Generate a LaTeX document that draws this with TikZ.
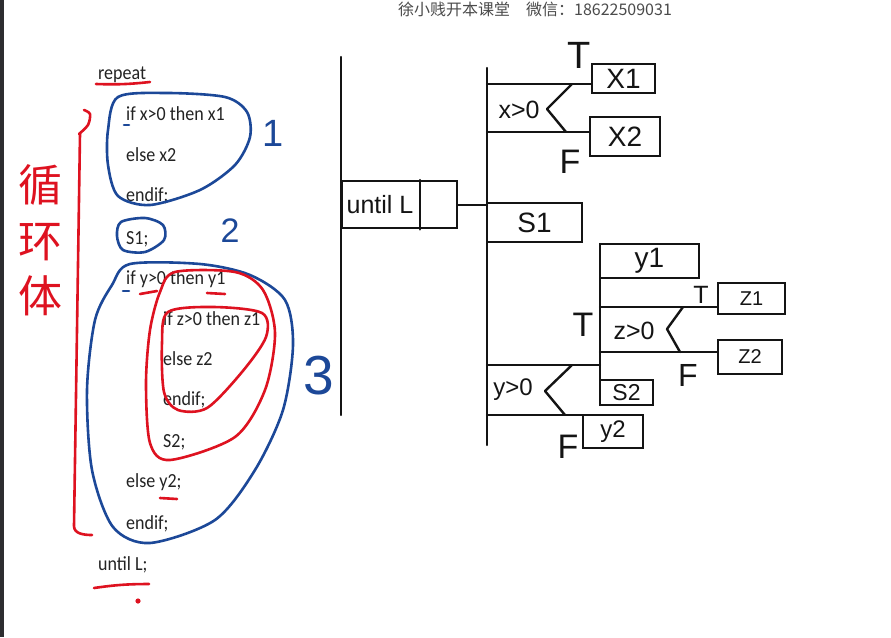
\documentclass[tikz,border=0pt]{standalone}
\usepackage{fontspec}
\setmainfont{Liberation Sans}
\newfontfamily\codefont[FakeStretch=0.9]{Carlito}
\newfontfamily\cjk{Noto Sans CJK SC}
\usetikzlibrary{positioning}
\definecolor{cInk}{RGB}{20,20,20}
\definecolor{cCode}{RGB}{35,35,35}
\definecolor{cHead}{RGB}{75,75,75}
\definecolor{cRed}{RGB}{222,18,32}
\definecolor{cBlue}{RGB}{28,72,152}
\definecolor{cEdge}{RGB}{45,45,48}
\newcommand{\fsz}[1]{\fontsize{#1}{#1}\selectfont}
\tikzset{
  codeline/.style={anchor=base west,inner sep=0pt,text=cCode,
                   font=\codefont\fsz{20}},
  padline/.style={line width=2.4pt,line cap=round,line join=round,color=cInk},
  padbox/.style={rectangle,draw=cInk,line width=2.4pt,inner sep=0pt,
                 text=cInk,font=\fsz{28}},
  padlabel/.style={inner sep=0pt,text=cInk,font=\fsz{25}},
  tflabel/.style={inner sep=0pt,text=cInk,font=\fsz{34}},
  redpen/.style={line width=2.6pt,color=cRed,line cap=round,line join=round},
  bluepen/.style={line width=2.6pt,color=cBlue,line cap=round,line join=round},
  bluenum/.style={inner sep=0pt,text=cBlue},
  redchar/.style={inner sep=0pt,text=cRed,font=\cjk\fsz{44}}
}

\begin{document}
\begin{tikzpicture}[x=1pt,y=-1pt]

  \fill[white] (0,0) rectangle (891,637);
  \useasboundingbox (0,0) rectangle (891,637);
  \fill[cEdge] (0,0) rectangle (4,637);

  % header line
  \node[anchor=base west,inner sep=0pt,text=cHead,font=\cjk\fsz{16}] (head)
      at (398,15) {徐小贱开本课堂\quad 微信：18622509031};

  % source code
  \node[codeline] (l0)  at (98,79)  {repeat};
  \node[codeline] (l1)  at (126,120) {if x>0 then x1};
  \node[codeline] (l2)  at (126,161) {else x2};
  \node[codeline] (l3)  at (126,201) {endif;};
  \node[codeline] (l4)  at (126,244) {S1;};
  \node[codeline] (l5)  at (126,284) {if y>0 then y1};
  \node[codeline] (l6)  at (163,325) {if z>0 then z1};
  \node[codeline] (l7)  at (163,365) {else z2};
  \node[codeline] (l8)  at (163,405) {endif;};
  \node[codeline] (l9)  at (163,447) {S2;};
  \node[codeline] (l10) at (126,487) {else y2;};
  \node[codeline] (l11) at (126,529) {endif;};
  \node[codeline] (l12) at (98,570) {until L;};

  % loop body mark
  \node[redchar] (c1) at (40,185) {循};
  \node[redchar] (c2) at (40,242) {环};
  \node[redchar] (c3) at (40,296) {体};
  \draw[redpen] plot[smooth] coordinates {(84,110) (90,114) (88,125) (79,134)};
  \draw[redpen] (80,134) -- (74,526) to[out=-90,in=180] (92,535);
  \draw[redpen] (96,84) to[bend right=4] (150,82);
  \draw[redpen] (140,294) -- (157,291);
  \draw[redpen] (207,293) -- (225,294);
  \draw[redpen] (160,498) -- (177,499);
  \draw[redpen] (94,588) to[bend left=4] (149,584);
  \fill[cRed] (138,601) circle (2.6);

  % blocks 1, 2, 3
  \draw[bluepen] plot[smooth cycle] coordinates {(118,97) (167,93) (225,97)
      (247,112) (250,137) (235,165) (200,190) (150,205) (118,196) (108,165) (108,130)};
  \draw[bluepen] plot[smooth cycle] coordinates {(121,222) (145,218) (163,225)
      (164,240) (145,252) (123,250) (117,236)};
  \draw[bluepen] plot[smooth cycle] coordinates {(130,264) (200,264) (250,275)
      (285,300) (293,345) (283,410) (255,470) (215,520) (150,543) (113,527)
      (92,470) (87,390) (95,320) (112,285)};
  \draw[bluepen] (124,125) -- (129,125);
  \draw[bluepen] (123,291) -- (129,291);
  \node[bluenum,font=\fsz{38}] (n1) at (273,133) {1};
  \node[bluenum,font=\fsz{34}] (n2) at (230,231) {2};
  \node[bluenum,font=\fsz{55}] (n3) at (319,376) {3};

  % nested if
  \draw[redpen] plot[smooth cycle] coordinates {(175,272) (235,272) (263,290)
      (275,333) (265,390) (235,437) (170,460) (150,443) (146,383) (150,330) (160,292)};
  \draw[redpen] plot[smooth cycle] coordinates {(168,312) (213,307) (262,313)
      (266,337) (242,372) (207,408) (178,410) (164,392) (162,343)};

  % PAD: outer loop
  \coordinate (trunkT) at (341,57);
  \coordinate (trunkB) at (341,415);
  \draw[padline] (trunkT) -- (trunkB);
  \node[padbox,minimum width=115pt,minimum height=47pt,anchor=north west]
      (untilbox) at (341,180) {};
  \node[padlabel] (untiltxt) at (380,205) {until L};
  \draw[padline] ([xshift=79pt]untilbox.north west) -- ([xshift=79pt]untilbox.south west);

  % PAD: loop body
  \coordinate (seqT) at (487,68);
  \coordinate (seqB) at (487,445);
  \draw[padline] (seqT) -- (seqB);
  \draw[padline] (untilbox.east) -- (untilbox.east -| seqT);

  % x>0
  \node[padbox,minimum width=63pt,minimum height=29pt] (xone) at (623.5,78.5) {X1};
  \node[padbox,minimum width=70pt,minimum height=39pt] (xtwo) at (625,136.5) {X2};
  \coordinate (xdT) at (487,84);
  \coordinate (xdB) at (487,132);
  \coordinate (xnotch) at (547,109);
  \draw[padline] (xdT) -- (xdT -| xone.west);
  \draw[padline] (xdB) -- (xdB -| xtwo.west);
  \draw[padline] (572,84) -- (xnotch) -- (566,132);
  \node[padlabel] (xcond) at (519,110) {x>0};
  \node[tflabel,font=\fsz{38}] (xT) at (579,55) {T};
  \node[tflabel] (xF) at (570,162) {F};

  % S1
  \node[padbox,minimum width=95pt,minimum height=39pt] (sone) at (534.5,222.5) {S1};

  % y>0
  \coordinate (ydT) at (487,365);
  \coordinate (ydB) at (487,415);
  \coordinate (ynotch) at (545,391);
  \coordinate (brT) at (600,244);
  \coordinate (brB) at (600,405);
  \node[padbox,minimum width=60pt,minimum height=33pt,font=\fsz{24}] (ytwo) at (613,431.5) {y2};
  \draw[padline] (brT) -- (brB);
  \draw[padline] (ydT) -- (ydT -| brT);
  \draw[padline] (ydB) -- (ydB -| ytwo.west);
  \draw[padline] (572,365) -- (ynotch) -- (565,415);
  \node[padlabel,font=\fsz{24}] (ycond) at (513,390) {y>0};
  \node[tflabel] (yT) at (583,325) {T};
  \node[tflabel] (yF) at (568,447) {F};

  % T branch of y>0
  \node[padbox,minimum width=99pt,minimum height=34pt] (yone) at (649.5,261) {y1};
  \node[padbox,minimum width=67pt,minimum height=31pt,font=\fsz{20}] (zone) at (751.5,298.5) {Z1};
  \node[padbox,minimum width=64pt,minimum height=34pt,font=\fsz{20}] (ztwo) at (750,357) {Z2};
  \node[padbox,minimum width=53pt,minimum height=25pt,font=\fsz{23}] (stwo) at (626.5,392.5) {S2};
  \coordinate (zdT) at (600,307);
  \coordinate (zdB) at (600,352);
  \coordinate (znotch) at (667,329);
  \draw[padline] (zdT) -- (zdT -| zone.west);
  \draw[padline] (zdB) -- (zdB -| ztwo.west);
  \draw[padline] (683,307) -- (znotch) -- (680,352);
  \node[padlabel,font=\fsz{25}] (zcond) at (634,331) {z>0};
  \node[tflabel,font=\fsz{25}] (zT) at (701,295) {T};
  \node[tflabel,font=\fsz{32}] (zF) at (688,375) {F};

\end{tikzpicture}
\end{document}
